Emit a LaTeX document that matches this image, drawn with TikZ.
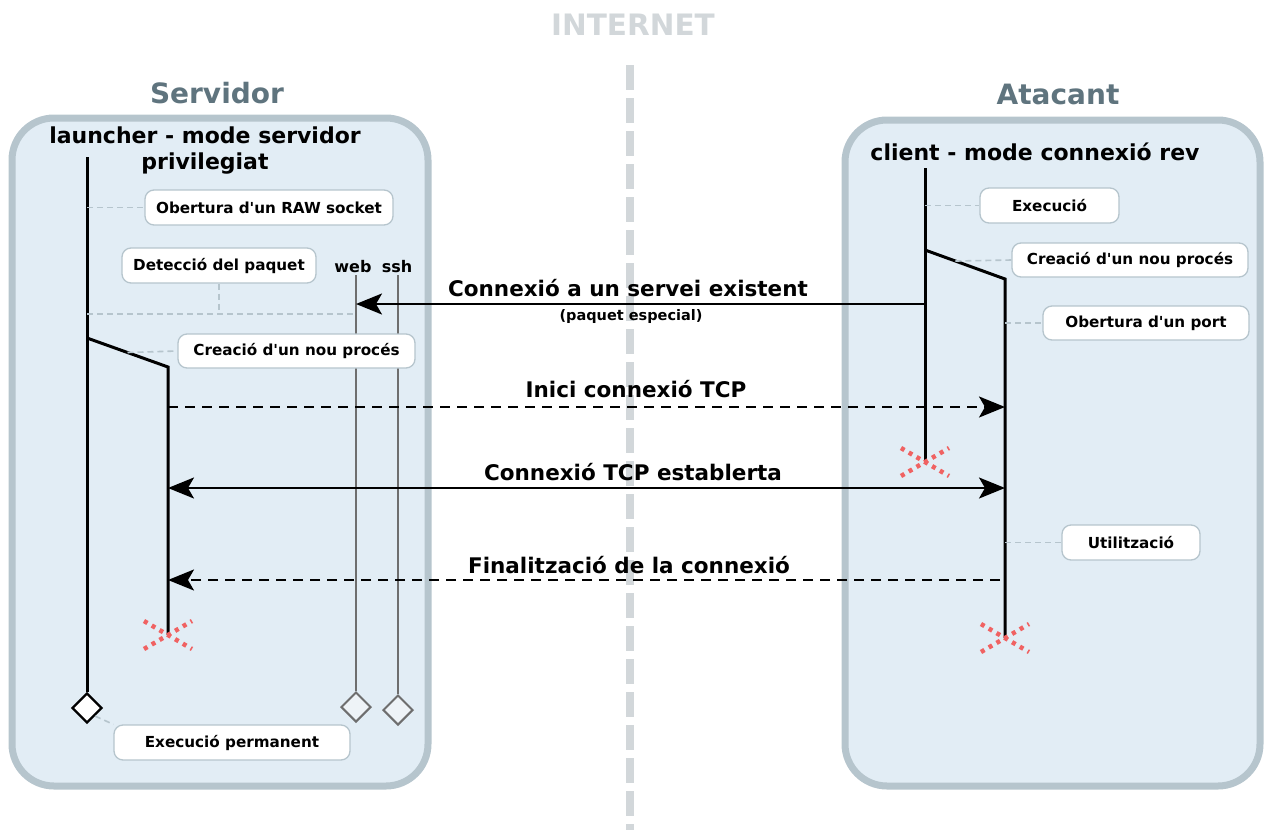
\documentclass[tikz,border=0pt]{standalone}
\usepackage{fontspec}
\setmainfont{DejaVu Sans}
\usetikzlibrary{arrows.meta,positioning,calc,shapes.geometric}
\definecolor{PanelFill}{HTML}{E2EDF5}
\definecolor{PanelEdge}{HTML}{B6C5CD}
\definecolor{PanelTitle}{HTML}{5F747E}
\definecolor{NetGray}{HTML}{D2D7DA}
\definecolor{KillRed}{HTML}{F06262}
\definecolor{PortGray}{HTML}{6E6E6E}
\definecolor{PortFill}{HTML}{EEF3F7}

\tikzset{
  panel/.style={rounded corners=42pt,fill=PanelFill,draw=PanelEdge,line width=7pt},
  paneltitle/.style={text=PanelTitle,font=\bfseries\fontsize{28}{32}\selectfont},
  lifetitle/.style={font=\bfseries\fontsize{22}{26}\selectfont,align=center},
  note/.style={draw=PanelEdge,fill=white,rounded corners=9pt,line width=1.3pt,
    minimum height=35pt,font=\bfseries\fontsize{15.2}{17}\selectfont},
  noteline/.style={draw=PanelEdge,line width=1.6pt,dash pattern=on 6pt off 4pt},
  life/.style={line width=3pt},
  portline/.style={draw=PortGray,line width=2pt},
  stop/.style={diamond,draw,fill=white,line width=2.4pt,minimum size=30pt,inner sep=0pt},
  portstop/.style={stop,draw=PortGray,fill=PortFill,line width=2pt},
  msg/.style={line width=2.2pt,-{Stealth[length=26pt,width=21pt,inset=6pt]}},
  msgdash/.style={msg,dash pattern=on 10pt off 7pt},
  msglabel/.style={font=\bfseries\fontsize{21.5}{24}\selectfont},
  kill/.style={draw=KillRed,line width=4.5pt,dash pattern=on 4pt off 5pt},
}

\begin{document}
\begin{tikzpicture}[x=1pt,y=-1pt]
  \useasboundingbox (0,0) rectangle (1267,830);

  % internet split
  \node[text=NetGray,font=\bfseries\fontsize{29.5}{32}\selectfont] (net) at (633,25) {INTERNET};
  \draw[NetGray,line width=8pt,dash pattern=on 25pt off 8pt] (630,65) -- (630,830);

  % panels
  \filldraw[panel] (12,118) rectangle (428,786);
  \filldraw[panel] (845,120) rectangle (1260,786);
  \node[paneltitle] (srvTitle) at (217,93) {Servidor};
  \node[paneltitle] (attTitle) at (1058,94) {Atacant};

  \node[lifetitle] (launcher) at (205,151) {launcher - mode servidor\\privilegiat};
  \node[lifetitle] (client) at (1035,152) {client - mode connexió rev};
  \node[font=\bfseries\fontsize{16}{18}\selectfont] (web) at (353,267) {web};
  \node[font=\bfseries\fontsize{16}{18}\selectfont] (ssh) at (397,267) {ssh};

  % lifelines
  \coordinate (lTop) at (87,157);
  \coordinate (lFork) at (87,338);
  \coordinate (pTop) at (168,367);
  \coordinate (pEnd) at (168,635);
  \coordinate (wTop) at (356,275);
  \coordinate (sTop) at (398,275);
  \coordinate (cTop) at (925,168);
  \coordinate (cFork) at (925,250);
  \coordinate (cEnd) at (925,462);
  \coordinate (qTop) at (1005,279);
  \coordinate (qEnd) at (1005,638);
  \node[stop] (lEnd) at (87,708) {};
  \node[portstop] (wEnd) at (356,707) {};
  \node[portstop] (sEnd) at (398,710) {};

  \draw[portline] (wTop) -- (wEnd.north);
  \draw[portline] (sTop) -- (sEnd.north);
  \draw[life] (lTop) -- (lEnd.north);
  \draw[life] (lFork) -- (pTop) -- (pEnd);
  \draw[life] (cTop) -- (cEnd);
  \draw[life] (cFork) -- (qTop) -- (qEnd);

  % notes
  \node[note,minimum width=248pt] (raw) at (269,207.5) {Obertura d\textquotesingle un RAW socket};
  \node[note,minimum width=194pt] (detect) at (219,265.5) {Detecció del paquet};
  \node[note,minimum width=237pt,minimum height=34pt] (forkL) at (296.5,351) {Creació d\textquotesingle un nou procés};
  \node[note,minimum width=236pt] (perm) at (232,742.5) {Execució permanent};
  \node[note,minimum width=139pt] (exec) at (1049.5,205.5) {Execució};
  \node[note,minimum width=236pt,minimum height=34pt] (forkR) at (1130,260) {Creació d\textquotesingle un nou procés};
  \node[note,minimum width=206pt,minimum height=34pt] (port) at (1146,323) {Obertura d\textquotesingle un port};
  \node[note,minimum width=138pt] (use) at (1131,542.5) {Utilització};

  \coordinate (yDet) at (0,314);
  \draw[noteline] (lTop |- raw.west) -- (raw.west);
  \draw[noteline] (detect.south) -- (detect.south |- yDet);
  \draw[noteline] (lTop |- yDet) -- (wTop |- yDet);
  \draw[noteline] ($(lFork)!.5!(pTop)$) -- (forkL.west);
  \draw[noteline] (lEnd.south east) -- (perm.north west);
  \draw[noteline] (cTop |- exec.west) -- (exec.west);
  \draw[noteline] ($(cFork)!.38!(qTop)$) -- (forkR.west);
  \draw[noteline] (qTop |- port.west) -- (port.west);
  \draw[noteline] (qTop |- use.west) -- (use.west);

  % messages
  \coordinate (yConn) at (0,304);
  \coordinate (yInit) at (0,407);
  \coordinate (yEst) at (0,488);
  \coordinate (yFin) at (0,580);
  \draw[msg] (cTop |- yConn) -- (wTop |- yConn);
  \draw[msgdash] (pTop |- yInit) -- (qTop |- yInit);
  \draw[msg,{Stealth[length=26pt,width=21pt,inset=6pt]}-{Stealth[length=26pt,width=21pt,inset=6pt]}] (pTop |- yEst) -- (qTop |- yEst);
  \draw[msgdash] ($(qTop |- yFin)+(-5,0)$) -- (pTop |- yFin);
  \node[msglabel] (connLbl) at (628,288) {Connexió a un servei existent};
  \node[font=\bfseries\fontsize{14.5}{16}\selectfont] (pktLbl) at (631,316) {(paquet especial)};
  \node[msglabel] (initLbl) at (636,389) {Inici connexió TCP};
  \node[msglabel] (estLbl) at (633,472) {Connexió TCP establerta};
  \node[msglabel] (finLbl) at (629,565) {Finalització de la connexió};

  % terminated processes
  \foreach \c in {pEnd,cEnd,qEnd}
    \draw[kill] ($(\c)+(-24,-14)$) -- ($(\c)+(24,14)$) ($(\c)+(-24,14)$) -- ($(\c)+(24,-14)$);
\end{tikzpicture}
\end{document}
